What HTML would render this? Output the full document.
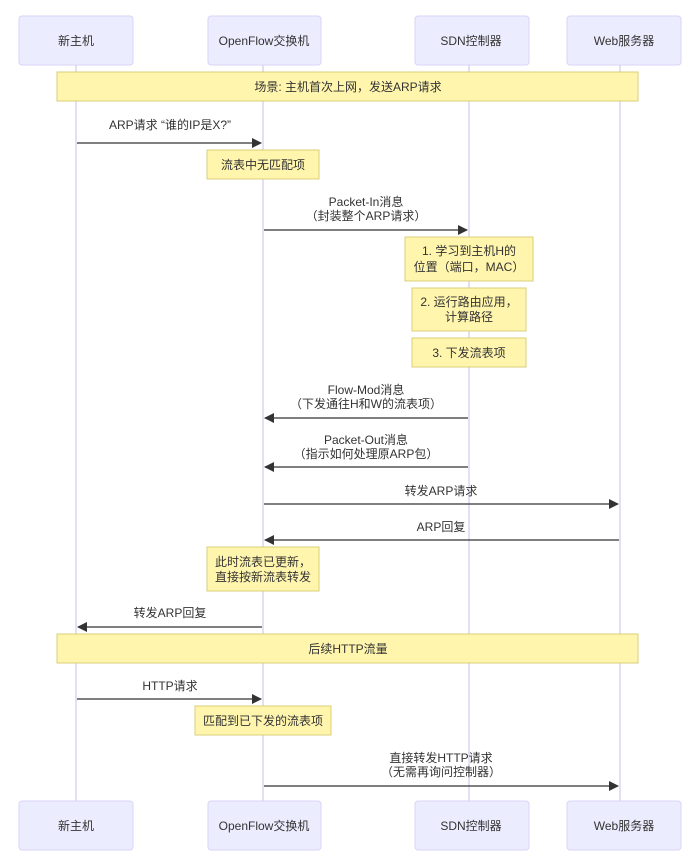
<!DOCTYPE html>
<html><head><meta charset="utf-8"><style>
html,body{margin:0;padding:0;background:#fff;}
svg{display:block;}
text{font-family:"Liberation Sans","Noto Sans CJK SC",sans-serif;font-size:12px;fill:#333;}
.act{fill:#ececff;stroke:#d9d4f5;stroke-width:1;}
.life{stroke:#ddd3f0;stroke-width:1.5;}
.note{fill:#fff5ad;stroke:#d8cf78;stroke-width:1;}
.msg{stroke:#333;stroke-width:1.2;}
</style></head><body>
<svg width="692" height="865" viewBox="0 0 692 865">
<defs><marker id="ah" markerWidth="10" markerHeight="10" refX="9" refY="5" orient="auto" markerUnits="userSpaceOnUse"><path d="M0,0 L10,5 L0,10 z" fill="#333"/></marker></defs>
<g class="lines">
<line class="life" x1="76" y1="65" x2="76" y2="801"/>
<line class="life" x1="263" y1="65" x2="263" y2="801"/>
<line class="life" x1="469" y1="65" x2="469" y2="801"/>
<line class="life" x1="620" y1="65" x2="620" y2="801"/>
</g>
<g text-anchor="middle">
<rect class="act" x="19" y="16" width="114" height="49" rx="3"/><text x="76" y="45">新主机</text>
<rect class="act" x="208" y="16" width="113" height="49" rx="3"/><text x="264" y="45">OpenFlow交换机</text>
<rect class="act" x="415" y="16" width="114" height="49" rx="3"/><text x="471" y="45">SDN控制器</text>
<rect class="act" x="567" y="16" width="114" height="49" rx="3"/><text x="624" y="45">Web服务器</text>

<rect class="act" x="19" y="801" width="114" height="49" rx="3"/><text x="76" y="830">新主机</text>
<rect class="act" x="208" y="801" width="113" height="49" rx="3"/><text x="264" y="830">OpenFlow交换机</text>
<rect class="act" x="415" y="801" width="114" height="49" rx="3"/><text x="471" y="830">SDN控制器</text>
<rect class="act" x="567" y="801" width="114" height="49" rx="3"/><text x="624" y="830">Web服务器</text>

<rect class="note" x="57" y="72" width="581" height="29"/><text x="348" y="91">场景: 主机首次上网，发送ARP请求</text>

<text x="170" y="129">ARP请求 “谁的IP是X?”</text>
<line class="msg" x1="77" y1="143" x2="261" y2="143" marker-end="url(#ah)"/>

<rect class="note" x="207" y="150" width="112" height="29"/><text x="263" y="169">流表中无匹配项</text>

<text x="366" y="206">Packet-In消息</text><text x="366" y="220">（封装整个ARP请求）</text>
<line class="msg" x1="264" y1="230" x2="467" y2="230" marker-end="url(#ah)"/>

<rect class="note" x="405" y="237" width="128" height="44"/><text x="469" y="255">1. 学习到主机H的</text><text x="469" y="271">位置（端口，MAC）</text>
<rect class="note" x="412" y="288" width="114" height="43"/><text x="469" y="306">2. 运行路由应用，</text><text x="469" y="321">计算路径</text>
<rect class="note" x="412" y="338" width="114" height="29"/><text x="469" y="357">3. 下发流表项</text>

<text x="366" y="394">Flow-Mod消息</text><text x="366" y="408">（下发通往H和W的流表项）</text>
<line class="msg" x1="468" y1="418" x2="265" y2="418" marker-end="url(#ah)"/>

<text x="366" y="444">Packet-Out消息</text><text x="366" y="458">（指示如何处理原ARP包）</text>
<line class="msg" x1="468" y1="467" x2="265" y2="467" marker-end="url(#ah)"/>

<text x="441" y="495">转发ARP请求</text>
<line class="msg" x1="264" y1="504" x2="618" y2="504" marker-end="url(#ah)"/>

<text x="441" y="531">ARP回复</text>
<line class="msg" x1="619" y1="540" x2="265" y2="540" marker-end="url(#ah)"/>

<rect class="note" x="207" y="547" width="112" height="44"/><text x="263" y="566">此时流表已更新，</text><text x="263" y="581">直接按新流表转发</text>

<text x="170" y="617">转发ARP回复</text>
<line class="msg" x1="262" y1="627" x2="78" y2="627" marker-end="url(#ah)"/>

<rect class="note" x="57" y="634" width="581" height="29"/><text x="348" y="653">后续HTTP流量</text>

<text x="170" y="690">HTTP请求</text>
<line class="msg" x1="77" y1="699" x2="261" y2="699" marker-end="url(#ah)"/>

<rect class="note" x="195" y="706" width="136" height="29"/><text x="263" y="725">匹配到已下发的流表项</text>

<text x="441" y="762">直接转发HTTP请求</text><text x="441" y="776">（无需再询问控制器）</text>
<line class="msg" x1="264" y1="786" x2="618" y2="786" marker-end="url(#ah)"/>
</g>
</svg>
</body></html>
